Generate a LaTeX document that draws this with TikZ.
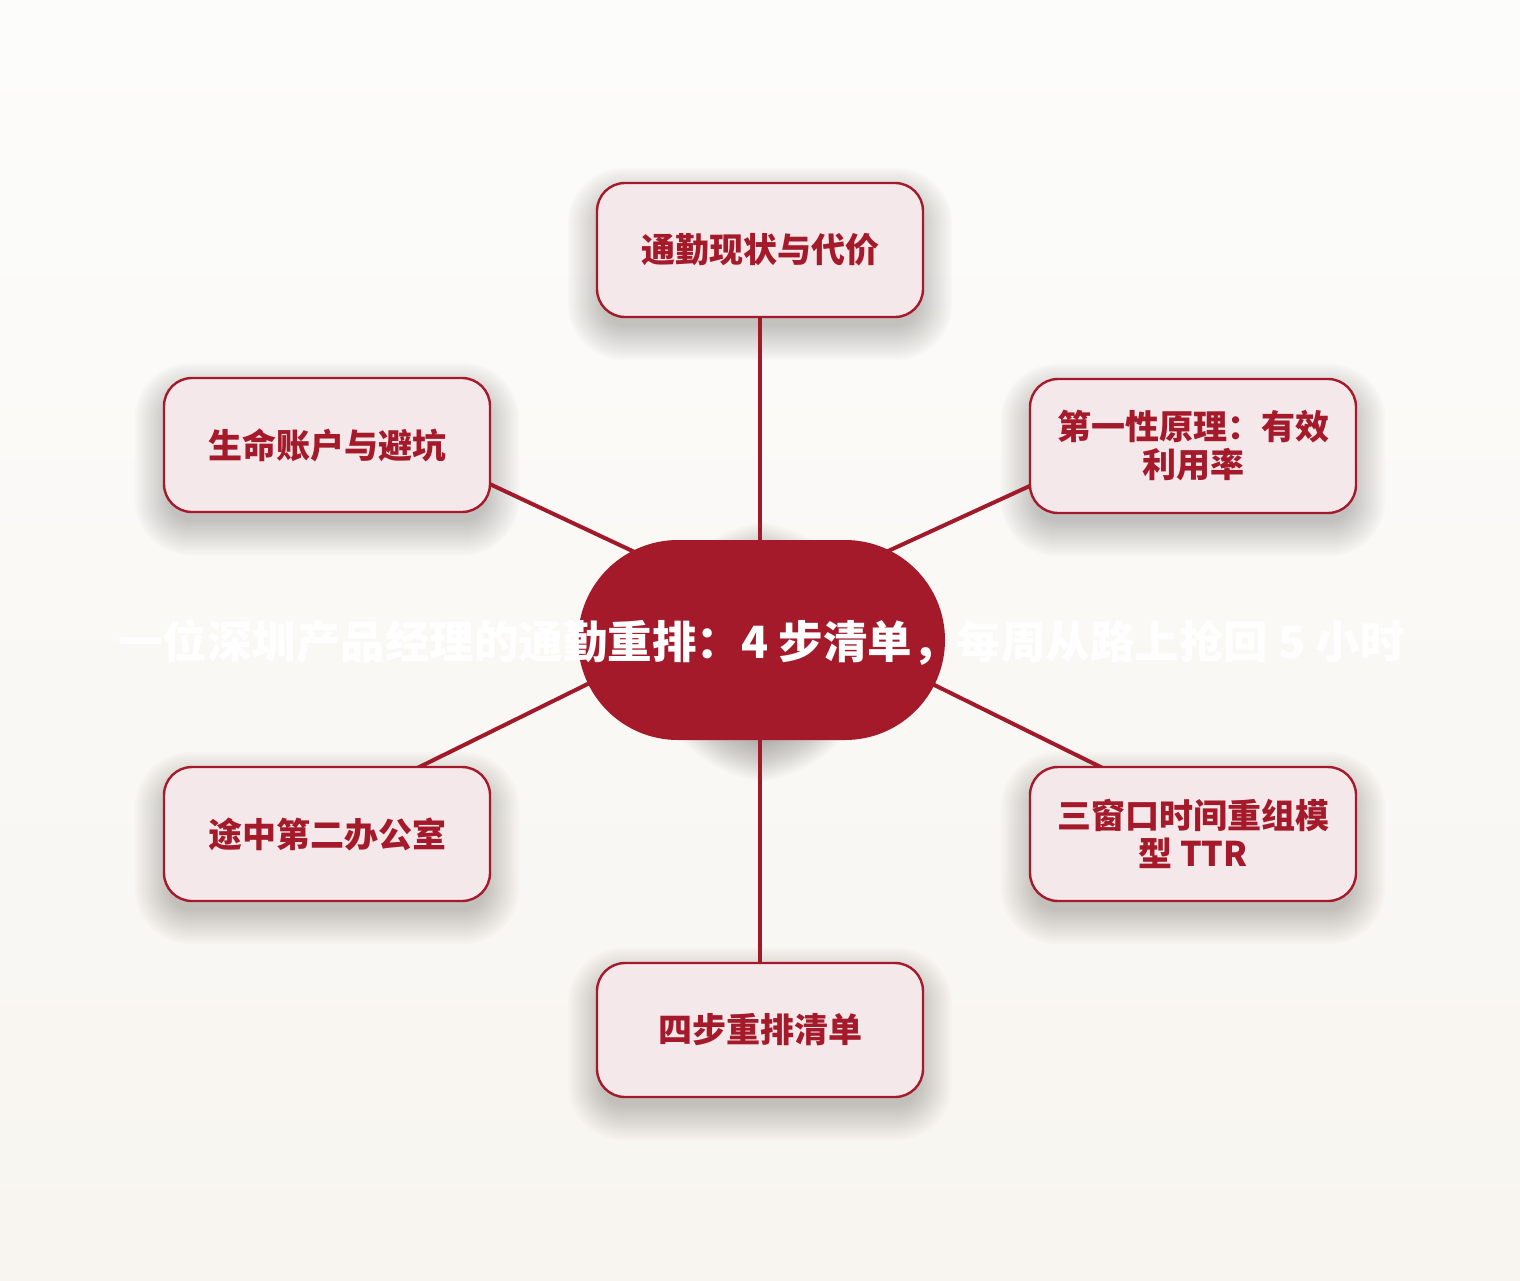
\documentclass[tikz,border=0pt]{standalone}
\usepackage{fontspec}
\setmainfont{Noto Sans CJK SC}
\usetikzlibrary{shapes.misc,calc}
\definecolor{crim}{HTML}{A51A2A}
\definecolor{edgecol}{HTML}{A01A29}
\definecolor{boxfill}{HTML}{F5E8EA}
\definecolor{bgtop}{HTML}{FCFCFB}
\definecolor{bgbot}{HTML}{F8F5F0}
\definecolor{shadowcol}{HTML}{3A3530}
\pgfdeclarelayer{bg}
\pgfdeclarelayer{edges}
\pgfsetlayers{bg,edges,main}
\tikzset{
  topic/.style={draw=crim, line width=2.4pt, fill=boxfill, rounded corners=28pt,
    minimum width=326pt, minimum height=134pt, inner sep=0pt, align=center,
    text=crim, font=\fontsize{34pt}{38pt}\selectfont\bfseries},
  hub/.style={shape=rounded rectangle, fill=crim, minimum width=367pt,
    minimum height=200pt, inner sep=0pt},
  title/.style={text=white, font=\fontsize{44.5pt}{48pt}\selectfont\bfseries, inner sep=0pt},
  conn/.style={draw=edgecol, line width=4pt, line cap=round},
  shadowlayer/.style={fill=shadowcol, opacity=0.016}
}
\begin{document}
\begin{tikzpicture}[x=1pt, y=-1pt]
\useasboundingbox (0,0) rectangle (1520,1280);
\node[hub, label={[title,yshift=-2pt]center:一位深圳产品经理的通勤重排：4 步清单，每周从路上抢回 5 小时}] (c) at (761.5,640) {};
\node[topic] (t)  at (760,250)  {通勤现状与代价};
\node[topic] (ul) at (327,445)  {生命账户与避坑};
\node[topic] (ur) at (1193,446) {第一性原理：有效\\利用率};
\node[topic] (ll) at (327,834)  {途中第二办公室};
\node[topic] (lr) at (1193,834) {三窗口时间重组模\\型 TTR};
\node[topic] (b)  at (760,1030) {四步重排清单};
\begin{pgfonlayer}{bg}
  \shade[top color=bgtop, bottom color=bgbot] (0,0) rectangle (1520,1280);
  \foreach \n in {t,ul,ur,ll,lr,b}{
    \foreach \r in {-6,-4,...,28}{
      \pgfmathsetmacro\rr{max(28+\r,4)}
      \fill[shadowlayer, rounded corners=\rr pt]
        ($(\n.north west)+(-\r,-\r+14)$) rectangle ($(\n.south east)+(\r,\r+14)$);
    }
  }
  \foreach \r in {-10,-8,...,30}{
    \pgfmathsetmacro\rr{100+\r}
    \fill[shadowlayer, opacity=0.02, rounded corners=\rr pt]
      ($(c.north west)+(-\r,-\r+12)$) rectangle ($(c.south east)+(\r,\r+12)$);
  }
\end{pgfonlayer}
\begin{pgfonlayer}{edges}
  \draw[conn] ($(c)+(-1.5,0)$) -- (t);
  \draw[conn] ($(c)+(-1.5,0)$) -- (b);
  \draw[conn] ($(c)+(-103.5,-77)$) -- ($(ul)+(135,26)$);
  \draw[conn] ($(c)+(100.5,-77)$) -- ($(ur)+(-135,27)$);
  \draw[conn] ($(c)+(-149.5,32)$) -- ($(ll)+(66,-54)$);
  \draw[conn] ($(c)+(146.5,32)$) -- ($(lr)+(-66,-54)$);
\end{pgfonlayer}
\end{tikzpicture}
\end{document}
